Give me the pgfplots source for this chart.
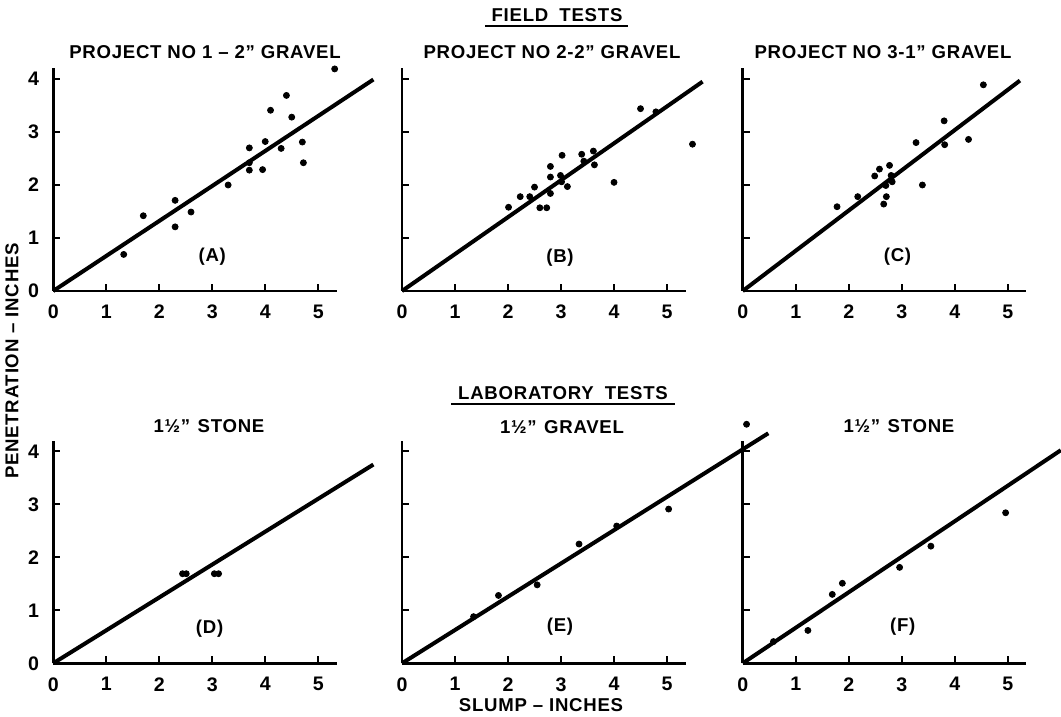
\documentclass[border=0pt]{standalone}
\usepackage{fontspec}
\setmainfont{Liberation Sans}[LetterSpace=4]
\usepackage{pgfplots}
\pgfplotsset{compat=1.18}
\pgfplotsset{
  panel/.style={
    scale only axis, width=141.8pt, height=111.3pt,
    xmin=0, xmax=5.35, ymin=0, ymax=4.2,
    axis lines*=left,
    axis line style={line width=1.3pt, black},
    xtick={0,1,2,3,4,5}, ytick={0,1,2,3,4},
    tick style={line width=1pt, black},
    major tick length=3.5pt, tick align=inside,
    clip=false,
    /pgf/number format/assume math mode=true,
    every tick label/.append style={font=\fontsize{9.8}{10}\selectfont\bfseries},
    xticklabel style={yshift=-3.5pt},
    yticklabel style={xshift=-3.5pt},
  },
  dots/.style={only marks, mark=*, mark size=1.5pt, black},
  fit/.style={no marks, line width=2pt, black},
  noy/.style={yticklabels={}},
}
\newcommand{\ttl}{\fontsize{9.3}{11}\selectfont\bfseries}
\begin{document}
\begin{tikzpicture}
\path[use as bounding box] (0,0) rectangle (530.5pt,358.5pt);

% A
\begin{axis}[panel, at={(26.6pt,213pt)}, anchor=south west]
\addplot[dots] coordinates {(1.33,0.69)(1.7,1.42)(2.3,1.71)(2.3,1.21)(2.6,1.49)(3.3,2.0)(3.7,2.7)(3.7,2.42)(3.7,2.28)(3.95,2.29)(4.0,2.82)(4.1,3.41)(4.3,2.69)(4.4,3.69)(4.5,3.28)(4.7,2.81)(4.72,2.42)(5.31,4.19)};
\addplot[fit] coordinates {(0,0)(6.04,3.99)};
\node[font=\ttl] at (axis cs:3.0,0.65) {(A)};
\end{axis}

% B
\begin{axis}[panel, noy, at={(201pt,213pt)}, anchor=south west]
\addplot[dots] coordinates {(2.01,1.58)(2.23,1.78)(2.41,1.78)(2.5,1.96)(2.6,1.57)(2.73,1.57)(2.8,1.84)(2.8,2.15)(2.8,2.35)(2.99,2.18)(3.01,2.06)(3.02,2.56)(3.12,1.97)(3.39,2.58)(3.43,2.45)(3.61,2.64)(3.63,2.38)(4.0,2.05)(4.5,3.44)(4.79,3.38)(5.48,2.77)};
\addplot[fit] coordinates {(0,0)(5.67,3.95)};
\node[font=\ttl] at (axis cs:2.98,0.62) {(B)};
\end{axis}

% C
\begin{axis}[panel, noy, at={(371.35pt,213pt)}, anchor=south west]
\addplot[dots] coordinates {(1.78,1.59)(2.17,1.78)(2.49,2.17)(2.58,2.3)(2.66,1.64)(2.71,1.78)(2.7,1.99)(2.77,2.37)(2.8,2.18)(2.82,2.06)(3.27,2.8)(3.39,2.0)(3.8,3.21)(3.81,2.76)(4.26,2.86)(4.54,3.89)};
\addplot[fit] coordinates {(0,0)(5.23,3.97)};
\node[font=\ttl] at (axis cs:2.92,0.65) {(C)};
\end{axis}

% D
\begin{axis}[panel, at={(26.6pt,26.85pt)}, anchor=south west]
\addplot[dots] coordinates {(2.44,1.69)(2.51,1.69)(3.04,1.69)(3.12,1.69)};
\addplot[fit] coordinates {(0,0)(6.04,3.75)};
\node[font=\ttl] at (axis cs:2.95,0.66) {(D)};
\end{axis}

% E
\begin{axis}[panel, noy, at={(201pt,26.85pt)}, anchor=south west]
\addplot[dots] coordinates {(1.35,0.88)(1.82,1.28)(2.55,1.48)(3.34,2.25)(4.05,2.59)(5.03,2.91)(6.5,4.51)};
\addplot[fit] coordinates {(0,0)(6.91,4.34)};
\node[font=\ttl] at (axis cs:2.98,0.69) {(E)};
\end{axis}

% F
\begin{axis}[panel, noy, at={(371.35pt,26.85pt)}, anchor=south west]
\addplot[dots] coordinates {(0.58,0.41)(1.23,0.62)(1.69,1.3)(1.88,1.51)(2.96,1.81)(3.55,2.21)(4.96,2.84)};
\addplot[fit] coordinates {(0,0)(6.0,4.02)};
\node[font=\ttl] at (axis cs:3.02,0.69) {(F)};
\end{axis}

\begin{scope}[x=0.5pt, y=-0.5pt, yshift=358.5pt]
\node[font=\ttl] at (557,15) {FIELD\hspace{0.6em}TESTS};
\draw[line width=1.1pt] (485,26) -- (628,26);
\node[font=\ttl] at (205,52) {PROJECT NO 1 -- 2" GRAVEL};
\node[font=\ttl] at (552,52) {PROJECT NO 2-2" GRAVEL};
\node[font=\ttl] at (883,52) {PROJECT NO 3-1" GRAVEL};
\node[font=\ttl] at (563,393) {LABORATORY\hspace{0.6em}TESTS};
\draw[line width=1.1pt] (451,404) -- (675,404);
\node[font=\ttl] at (209,426) {1½"\hspace{0.4em}STONE};
\node[font=\ttl] at (562,427) {1½"\hspace{0.4em}GRAVEL};
\node[font=\ttl] at (899,426) {1½"\hspace{0.4em}STONE};
\node[font=\ttl, rotate=90] at (12,361) {PENETRATION -- INCHES};
\node[font=\ttl] at (541,705) {SLUMP -- INCHES};
\end{scope}
\end{tikzpicture}
\end{document}
